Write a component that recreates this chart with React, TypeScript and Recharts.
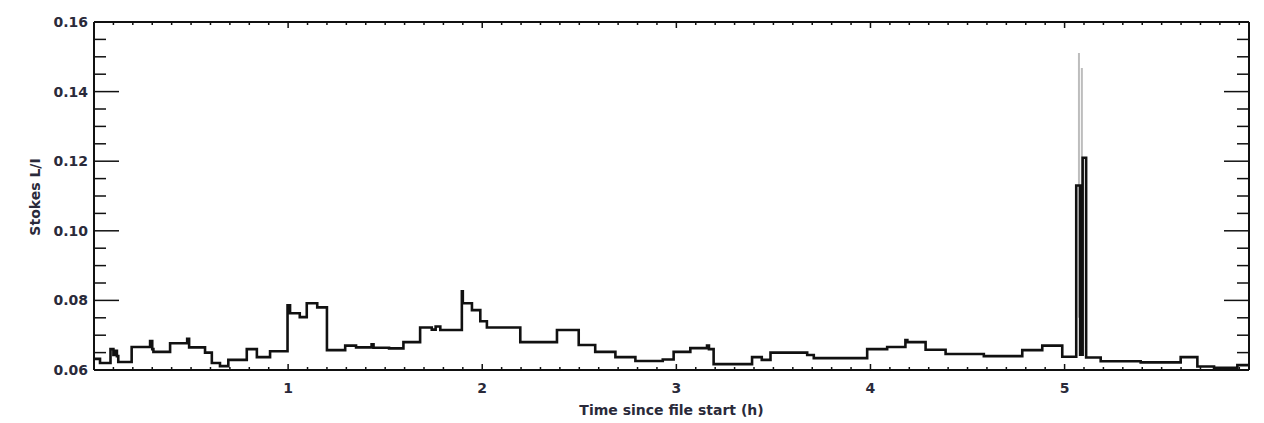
import { LineChart, Line, XAxis, YAxis } from "recharts";

// time since file start (h) and Stokes L/I
const times = [
  0, 0.031, 0.085, 0.1, 0.108, 0.118, 0.125, 0.194, 0.289, 0.3,
  0.306, 0.392, 0.48, 0.49, 0.572, 0.607, 0.649, 0.692, 0.787, 0.839,
  0.907, 0.997, 1.01, 1.06, 1.096, 1.15, 1.2, 1.294, 1.35, 1.43,
  1.44, 1.52, 1.594, 1.68, 1.74, 1.76, 1.784, 1.895, 1.9, 1.947,
  1.99, 2.024, 2.196, 2.385, 2.497, 2.582, 2.686, 2.789, 2.93, 2.986,
  3.072, 3.158, 3.168, 3.192, 3.39, 3.44, 3.485, 3.674, 3.708, 3.983,
  4.086, 4.18, 4.19, 4.284, 4.387, 4.584, 4.782, 4.885, 4.988, 5.06,
  5.08, 5.093, 5.111, 5.186, 5.392, 5.598, 5.684, 5.77, 5.89, 5.95,
];
const stokes = [
  0.0632, 0.062, 0.066, 0.0643, 0.0655, 0.064, 0.0623, 0.0666, 0.0683, 0.066,
  0.0652, 0.0677, 0.069, 0.0665, 0.065, 0.062, 0.0611, 0.0629, 0.066, 0.0637,
  0.0654, 0.0786, 0.0763, 0.0752, 0.0792, 0.078, 0.0657, 0.067, 0.0665, 0.0674,
  0.0664, 0.0662, 0.068, 0.0722, 0.0716, 0.0725, 0.0715, 0.0826, 0.0792, 0.0772,
  0.074, 0.0722, 0.068, 0.0715, 0.0672, 0.0652, 0.0637, 0.0626, 0.063, 0.0652,
  0.0663, 0.067, 0.066, 0.0617, 0.0637, 0.0629, 0.065, 0.0643, 0.0634, 0.066,
  0.0666, 0.0686, 0.068, 0.0658, 0.0646, 0.064, 0.0657, 0.067, 0.0638, 0.113,
  0.0644, 0.121, 0.0636, 0.0625, 0.0622, 0.0637, 0.061, 0.0606, 0.0614, 0.0614,
];

// light grey peaks behind the flare near 5.08 h
const spikeTimes = [5.074, 5.074, 5.082, 5.089, 5.089];
const spikeValues = [0.075, 0.1511, null, 0.08, 0.1468];

const xLabels = [1, 2, 3, 4, 5];
const yLabels = [0.06, 0.08, 0.1, 0.12, 0.14, 0.16];
const xTicks = Array.from({ length: 59 }, (_, i) => +((i + 1) * 0.1).toFixed(1));
const yTicks = Array.from({ length: 21 }, (_, i) => +(0.06 + i * 0.005).toFixed(3));

const data = times.map((t, i) => ({ t, v: stokes[i] }));
const spikes = spikeTimes.map((t, i) => ({ t, v: spikeValues[i] }));

const W = 1264;
const H = 423;
const LEFT = 94;
const RIGHT = 1249;
const TOP = 22;
const BOTTOM = 370;
const INK = "#111";
const TEXT = "#2a2a3a";
const FONT = "'DejaVu Sans', sans-serif";

const isX = (v: number) => xLabels.some((l) => Math.abs(l - v) < 1e-6);
const isY = (v: number) => yLabels.some((l) => Math.abs(l - v) < 1e-6);

function XTick(props: any) {
  const { x, payload } = props;
  const major = isX(payload.value);
  const len = major ? 6 : 3;
  return (
    <g>
      <line x1={x} x2={x} y1={BOTTOM} y2={BOTTOM - len} stroke={INK} strokeWidth={1.5} />
      <line x1={x} x2={x} y1={TOP} y2={TOP + len} stroke={INK} strokeWidth={1.5} />
      {major && (
        <text x={x} y={388} textAnchor="middle" dominantBaseline="central"
          fontFamily={FONT} fontWeight="bold" fontSize={14} fill={TEXT}>
          {payload.value}
        </text>
      )}
    </g>
  );
}

function YTick(props: any) {
  const { y, payload } = props;
  const major = isY(payload.value);
  const len = major ? 25 : 12;
  return (
    <g>
      <line x1={LEFT} x2={LEFT + len} y1={y} y2={y} stroke={INK} strokeWidth={1.5} />
      <line x1={RIGHT} x2={RIGHT - len} y1={y} y2={y} stroke={INK} strokeWidth={1.5} />
      {major && (
        <text x={88} y={y} textAnchor="end" dominantBaseline="central"
          fontFamily={FONT} fontWeight="bold" fontSize={14} fill={TEXT}>
          {payload.value.toFixed(2)}
        </text>
      )}
    </g>
  );
}

const frame = { stroke: INK, strokeWidth: 2 };

export default function App() {
  return (
    <div style={{ width: W, height: H, background: "#fff" }}>
      <style>{"body{margin:0}"}</style>
      <LineChart
        width={W}
        height={H}
        data={data}
        margin={{ top: TOP - 1, right: W - RIGHT - 1, bottom: 0, left: 0 }}
      >
        <XAxis
          xAxisId="b"
          dataKey="t"
          type="number"
          domain={[0, 5.95]}
          ticks={xTicks}
          interval={0}
          height={H - BOTTOM}
          tickLine={false}
          axisLine={frame}
          tick={<XTick />}
          label={{
            value: "Time since file start (h)",
            position: "insideBottom",
            offset: 8,
            fill: TEXT,
            fontSize: 14,
            fontWeight: "bold",
            fontFamily: FONT,
          }}
        />
        <XAxis
          xAxisId="t"
          dataKey="t"
          type="number"
          orientation="top"
          domain={[0, 5.95]}
          height={1}
          tick={false}
          tickLine={false}
          axisLine={frame}
        />
        <YAxis
          yAxisId="l"
          type="number"
          domain={[0.06, 0.16]}
          ticks={yTicks}
          interval={0}
          width={LEFT}
          allowDataOverflow
          tickLine={false}
          axisLine={frame}
          tick={<YTick />}
          label={{
            content: () => (
              <text x={35} y={197} transform="rotate(-90 35 197)" textAnchor="middle"
                dominantBaseline="central" fontFamily={FONT} fontWeight="bold"
                fontSize={14} fill={TEXT}>
                Stokes L/I
              </text>
            ),
          }}
        />
        <YAxis
          yAxisId="r"
          orientation="right"
          type="number"
          domain={[0.06, 0.16]}
          width={1}
          tick={false}
          tickLine={false}
          axisLine={frame}
        />
        <Line
          xAxisId="b"
          yAxisId="l"
          data={spikes}
          dataKey="v"
          type="linear"
          stroke="#bdbdbd"
          strokeWidth={2}
          dot={false}
          connectNulls={false}
          isAnimationActive={false}
        />
        <Line
          xAxisId="b"
          yAxisId="l"
          dataKey="v"
          type="stepAfter"
          stroke={INK}
          strokeWidth={2.6}
          dot={false}
          isAnimationActive={false}
        />
      </LineChart>
    </div>
  );
}
